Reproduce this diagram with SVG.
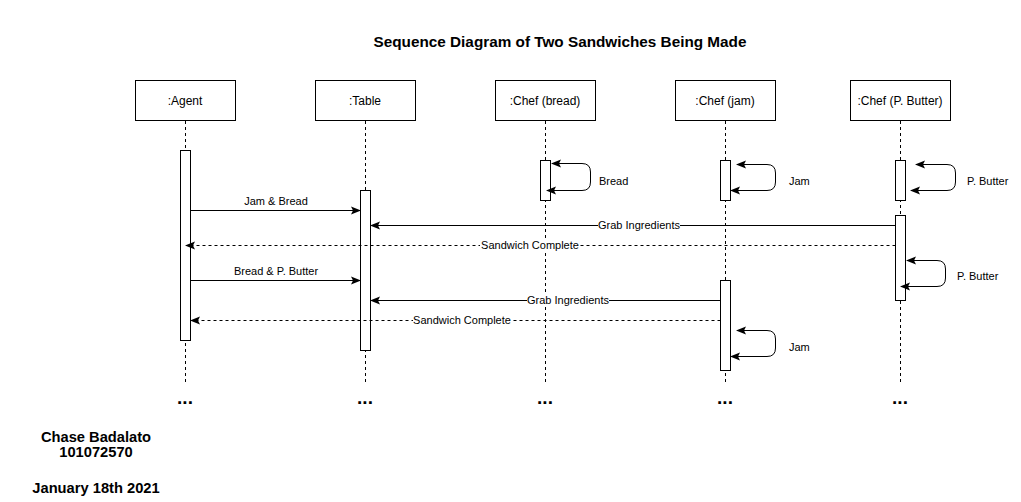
<svg xmlns="http://www.w3.org/2000/svg" width="1021" height="502" viewBox="0 0 1021 502">
<style>
.head{fill:#fff;stroke:#000;stroke-width:1}
.act{fill:#fff;stroke:#000;stroke-width:1}
.life{stroke:#000;stroke-width:1;stroke-dasharray:3 3;fill:none}
.t{font-family:"Liberation Sans",Arial,sans-serif;font-size:12px;fill:#000}
.lbl{font-family:"Liberation Sans",Arial,sans-serif;font-size:11px;fill:#000}
.b{font-family:"Liberation Sans",Arial,sans-serif;font-size:14.7px;font-weight:bold;fill:#000}
.title{font-family:"Liberation Sans",Arial,sans-serif;font-size:15.3px;font-weight:bold;fill:#000}
.dots{font-family:"Liberation Sans",Arial,sans-serif;font-size:19px;font-weight:bold;fill:#000}
.msg{stroke:#000;stroke-width:1;fill:none;marker-end:url(#ah)}
.ret{stroke:#000;stroke-width:1;fill:none;stroke-dasharray:3 3;marker-end:url(#ah)}
.loop{stroke:#000;stroke-width:1;fill:none;marker-start:url(#ahs);marker-end:url(#ah)}
.bg{fill:#fff}
</style>
<defs>
<marker id="ah" viewBox="0 0 10 10" refX="9" refY="5" markerWidth="10" markerHeight="10" markerUnits="userSpaceOnUse" orient="auto">
<path d="M0,1 L10,5 L0,9 L2,5 Z" fill="#000"/>
</marker>
<marker id="ahs" viewBox="0 0 10 10" refX="1" refY="5" markerWidth="10" markerHeight="10" markerUnits="userSpaceOnUse" orient="auto">
<path d="M10,1 L0,5 L10,9 L8,5 Z" fill="#000"/>
</marker>
</defs>
<rect width="1021" height="502" fill="#fff"/>
<text class="title" x="560" y="47" text-anchor="middle">Sequence Diagram of Two Sandwiches Being Made</text>

<g id="agent">
<rect class="head" x="135.5" y="80.5" width="100" height="40"/>
<text class="t" x="185" y="105" text-anchor="middle">:Agent</text>
<line class="life" x1="185.5" y1="121" x2="185.5" y2="382"/>
<rect class="act" x="180.5" y="150.5" width="10" height="190"/>
<text class="dots" x="185" y="404" text-anchor="middle">...</text>
</g>
<g id="table">
<rect class="head" x="315.5" y="80.5" width="100" height="40"/>
<text class="t" x="365" y="105" text-anchor="middle">:Table</text>
<line class="life" x1="365.5" y1="121" x2="365.5" y2="382"/>
<rect class="act" x="360.5" y="190.5" width="10" height="160"/>
<text class="dots" x="365" y="404" text-anchor="middle">...</text>
</g>
<g id="chef-bread">
<rect class="head" x="495.5" y="80.5" width="100" height="40"/>
<text class="t" x="545" y="105" text-anchor="middle">:Chef (bread)</text>
<line class="life" x1="545.5" y1="121" x2="545.5" y2="382"/>
<rect class="act" x="540.5" y="160.5" width="10" height="40"/>
<text class="dots" x="545" y="404" text-anchor="middle">...</text>
</g>
<g id="chef-jam">
<rect class="head" x="675.5" y="80.5" width="100" height="40"/>
<text class="t" x="725" y="105" text-anchor="middle">:Chef (jam)</text>
<line class="life" x1="725.5" y1="121" x2="725.5" y2="382"/>
<rect class="act" x="720.5" y="160.5" width="10" height="40"/>
<rect class="act" x="720.5" y="280.5" width="10" height="90"/>
<text class="dots" x="725" y="404" text-anchor="middle">...</text>
</g>
<g id="chef-pbutter">
<rect class="head" x="850.5" y="80.5" width="100" height="40"/>
<text class="t" x="900" y="105" text-anchor="middle">:Chef (P. Butter)</text>
<line class="life" x1="900.5" y1="121" x2="900.5" y2="382"/>
<rect class="act" x="895.5" y="160.5" width="10" height="40"/>
<rect class="act" x="895.5" y="215.5" width="10" height="85"/>
<text class="dots" x="900" y="404" text-anchor="middle">...</text>
</g>

<g id="connectors">
<path class="msg" d="M190.5,210.5 H360"/>
<text class="lbl" x="276" y="205" text-anchor="middle">Jam &amp; Bread</text>

<path class="msg" d="M895.5,225.5 H371"/>
<rect class="bg" x="598" y="219" width="82" height="12"/>
<text class="lbl" x="639" y="229" text-anchor="middle">Grab Ingredients</text>

<path class="ret" d="M895.5,245.5 H186"/>
<rect class="bg" x="480" y="239" width="100" height="12"/>
<text class="lbl" x="530" y="249" text-anchor="middle">Sandwich Complete</text>

<path class="msg" d="M190.5,280.5 H360"/>
<text class="lbl" x="276" y="275" text-anchor="middle">Bread &amp; P. Butter</text>

<path class="msg" d="M720.5,300.5 H371"/>
<rect class="bg" x="527" y="294" width="82" height="12"/>
<text class="lbl" x="568" y="304" text-anchor="middle">Grab Ingredients</text>

<path class="ret" d="M720.5,320.5 H191"/>
<rect class="bg" x="413" y="314" width="98" height="12"/>
<text class="lbl" x="462" y="324" text-anchor="middle">Sandwich Complete</text>

<path class="loop" d="M552,163.5 H582 Q590.5,163.5 590.5,172 V182 Q590.5,190.5 582,190.5 H547"/>
<text class="lbl" x="599" y="185">Bread</text>

<path class="loop" d="M737,164.5 H767 Q775.5,164.5 775.5,173 V182 Q775.5,190.5 767,190.5 H731"/>
<text class="lbl" x="789" y="185">Jam</text>

<path class="loop" d="M916,164.5 H947 Q955.5,164.5 955.5,173 V182 Q955.5,190.5 947,190.5 H911"/>
<text class="lbl" x="967" y="185">P. Butter</text>

<path class="loop" d="M907,260.5 H937 Q945.5,260.5 945.5,269 V278 Q945.5,286.5 937,286.5 H901"/>
<text class="lbl" x="957" y="280">P. Butter</text>

<path class="loop" d="M737,330.5 H767 Q775.5,330.5 775.5,339 V348 Q775.5,356.5 767,356.5 H731"/>
<text class="lbl" x="789" y="351">Jam</text>
</g>

<g id="footer">
<text class="b" x="96" y="442" text-anchor="middle">Chase Badalato</text>
<text class="b" x="96" y="457" text-anchor="middle">101072570</text>
<text class="b" x="96" y="493" text-anchor="middle">January 18th 2021</text>
</g>
</svg>
